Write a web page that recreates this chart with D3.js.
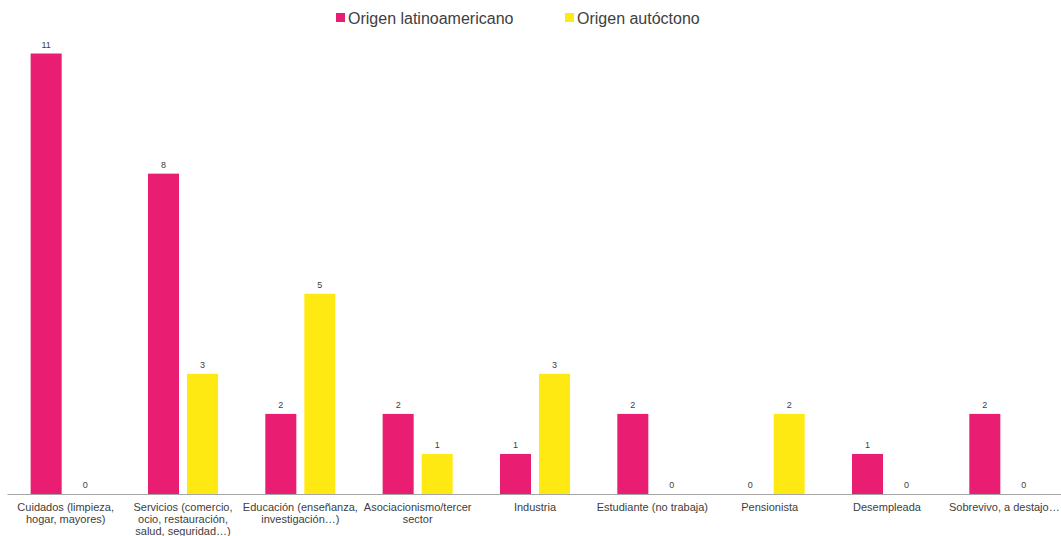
<!DOCTYPE html>
<html>
<head>
<meta charset="utf-8">
<script src="https://cdn.jsdelivr.net/npm/d3@7"></script>
<style>
  body { margin: 0; background: #fff; }
  svg { display: block; font-family: "Liberation Sans", Arial, sans-serif; }
</style>
</head>
<body>
<svg id="chart" width="1061" height="536"></svg>
<script>
"use strict";

// categories (line breaks as in the original labels)
var categories = [
  "Cuidados (limpieza,\nhogar, mayores)",
  "Servicios (comercio,\nocio, restauración,\nsalud, seguridad…)",
  "Educación (enseñanza,\ninvestigación…)",
  "Asociacionismo/tercer\nsector",
  "Industria",
  "Estudiante (no trabaja)",
  "Pensionista",
  "Desempleada",
  "Sobrevivo, a destajo…"
];
var series = ["Origen latinoamericano", "Origen autóctono"];
var latinoValues = [11, 8, 2, 2, 1, 2, 0, 1, 2];
var autoctonoValues = [0, 3, 5, 1, 3, 0, 2, 0, 0];
var colors = ["#e91e73", "#ffe912"];

var rows = categories.map(function (c, i) {
  return { cat: c, values: [latinoValues[i], autoctonoValues[i]] };
});

var svg = d3.select("#chart");
var baseline = 494;

var x0 = d3.scaleBand().domain(categories).range([7, 1063]);
var x1 = d3.scaleBand().domain(series).range([0, x0.bandwidth()])
  .paddingInner(0.205).paddingOuter(0.606);
var y = d3.scaleLinear().domain([0, 11]).range([baseline, 53.5]);

// bars
var groups = svg.append("g").selectAll(".group").data(rows).enter()
  .append("g").attr("class", "group")
  .attr("transform", function (d) { return "translate(" + x0(d.cat) + ",0)"; });

groups.selectAll("rect").data(function (d) {
  return series.map(function (s, j) { return { s: s, v: d.values[j], j: j }; });
}).enter().append("rect")
  .attr("x", function (d) { return x1(d.s); })
  .attr("width", x1.bandwidth())
  .attr("y", function (d) { return y(d.v); })
  .attr("height", function (d) { return baseline - y(d.v); })
  .attr("fill", function (d) { return colors[d.j]; });

// value labels
groups.selectAll("text.val").data(function (d) {
  return series.map(function (s, j) { return { s: s, v: d.values[j] }; });
}).enter().append("text").attr("class", "val")
  .attr("x", function (d) { return x1(d.s) + x1.bandwidth() / 2; })
  .attr("y", function (d) { return y(d.v) - 6; })
  .attr("text-anchor", "middle")
  .attr("font-size", 9)
  .attr("fill", "#404040")
  .text(function (d) { return d.v; });

// x axis
var xAxis = d3.axisBottom(x0).tickSize(0).tickPadding(0);
var axisG = svg.append("g").attr("transform", "translate(0," + baseline + ")").call(xAxis);
axisG.select(".domain").attr("stroke", "#a6a6a6").attr("stroke-width", 1);
axisG.selectAll(".tick text").each(function (d) {
  var t = d3.select(this).text(null)
    .attr("font-size", 11).attr("fill", "#404040")
    .attr("font-family", "Liberation Sans, Arial, sans-serif")
    .attr("y", 0).attr("dy", null);
  d.split("\n").forEach(function (line, k) {
    t.append("tspan").attr("x", 0).attr("y", 17 + k * 12).text(line);
  });
});

// legend
var legend = svg.append("g").attr("class", "legend");
var legendX = [336, 565];
series.forEach(function (s, j) {
  legend.append("rect").attr("x", legendX[j]).attr("y", 13)
    .attr("width", 9).attr("height", 9).attr("fill", colors[j]);
  legend.append("text").attr("x", legendX[j] + 12).attr("y", 24)
    .attr("font-size", 16).attr("fill", "#404040").text(s);
});
</script>
</body>
</html>
